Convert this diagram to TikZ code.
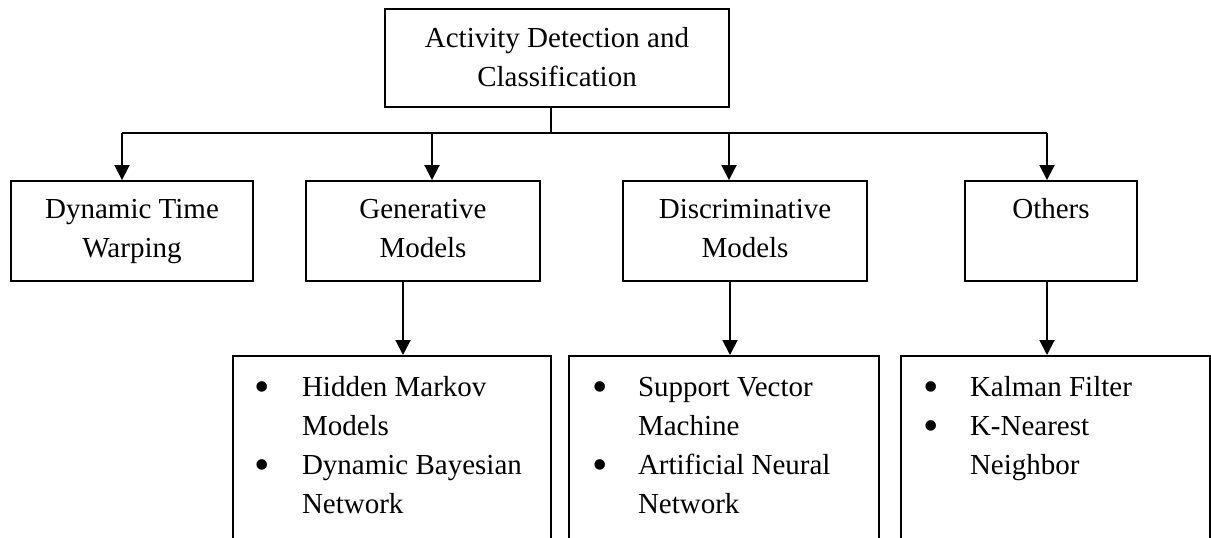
\documentclass[tikz,border=0pt]{standalone}
\usepackage{fontspec}
\setmainfont{Liberation Serif}
\usetikzlibrary{arrows.meta}

% fixed-size box content: width, height, first baseline, text (centred lines)
\newcommand{\headtext}[4]{\parbox[c][#2][t]{#1}{\centering\rule{0pt}{#3}#4}}
% large bullet in a column of a given width (kept out of the line height)
\newcommand{\bul}[1]{\makebox[#1][l]{\smash{\raisebox{-4.6pt}{\fontsize{44}{39}\selectfont\textbullet}}}}
% fixed-size list content: width, height, left indent, lines
\newcommand{\listtext}[4]{\parbox[c][#2][t]{#1}{\raggedright\leftskip=#3\relax\rule{0pt}{41pt}#4}}

\tikzset{
  frame/.style={draw, rectangle, line width=1.9pt, inner sep=0pt},
  link/.style={line width=1.9pt},
  arr/.style={link, -{Triangle[width=15pt,length=15pt]}},
}

\begin{document}
\begin{tikzpicture}[x=1pt, y=-1pt, font=\fontsize{29}{39}\selectfont]
  \useasboundingbox (0,0) rectangle (1211,538);
  \clip (0,0) rectangle (1211,538);

  % root
  \node[frame] (top) at (557,58)
    {\headtext{344pt}{98pt}{38pt}{Activity Detection and\\Classification}};

  % method families
  \node[frame] (dtw) at (132,231)
    {\headtext{242pt}{100pt}{37pt}{Dynamic Time\\Warping}};
  \node[frame] (gen) at (423,231)
    {\headtext{234pt}{100pt}{37pt}{Generative\\Models}};
  \node[frame] (disc) at (745,231)
    {\headtext{244pt}{100pt}{37pt}{Discriminative\\Models}};
  \node[frame] (oth) at (1051,231)
    {\headtext{172pt}{100pt}{37pt}{Others}};

  % example methods
  \node[frame, anchor=north] (genlist) at (392,355)
    {\listtext{318pt}{230pt}{21pt}{\bul{48pt}Hidden Markov\\\hspace*{48pt}Models\\\bul{48pt}Dynamic Bayesian\\\hspace*{48pt}Network}};
  \node[frame, anchor=north] (disclist) at (724,355)
    {\listtext{310pt}{230pt}{23pt}{\bul{46pt}Support Vector\\\hspace*{46pt}Machine\\\bul{46pt}Artificial Neural\\\hspace*{46pt}Network}};
  \node[frame, anchor=north] (othlist) at (1055.5,355)
    {\listtext{309pt}{230pt}{22pt}{\bul{47pt}Kalman Filter\\\bul{47pt}K-Nearest\\\hspace*{47pt}Neighbor}};

  % distribution bus
  \coordinate (split) at (551,133);
  \coordinate (b1) at (122,133);
  \coordinate (b2) at (432,133);
  \coordinate (b3) at (729,133);
  \coordinate (b4) at (1047,133);
  \draw[link] (top.south -| split) -- (split);
  \draw[link] (b1) -- (b4);
  \draw[arr] (b1) -- (b1 |- dtw.north);
  \draw[arr] (b2) -- (b2 |- gen.north);
  \draw[arr] (b3) -- (b3 |- disc.north);
  \draw[arr] (b4) -- (b4 |- oth.north);

  % family to examples
  \draw[arr] ([xshift=-20pt]gen.south) -- ([xshift=-20pt]gen.south |- genlist.north);
  \draw[arr] ([xshift=-15pt]disc.south) -- ([xshift=-15pt]disc.south |- disclist.north);
  \draw[arr] ([xshift=-4pt]oth.south) -- ([xshift=-4pt]oth.south |- othlist.north);
\end{tikzpicture}
\end{document}
